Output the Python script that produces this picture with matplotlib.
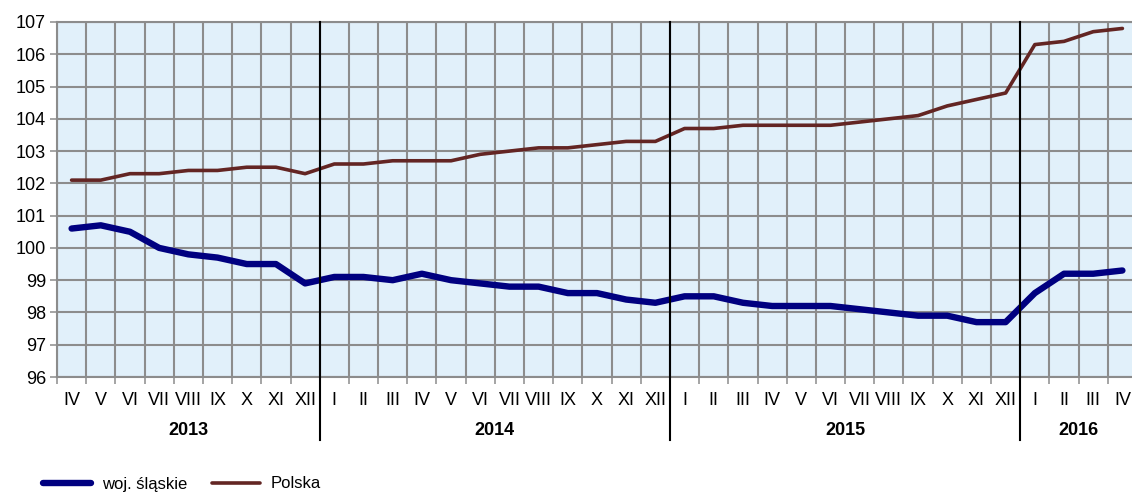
# Wskaźnik cen - woj. śląskie vs Polska, IV 2013 - IV 2016

import numpy as np
import matplotlib.pyplot as plt

plt.rcParams['font.family'] = ['Liberation Sans', 'DejaVu Sans']

# Dane
months = ['IV', 'V', 'VI', 'VII', 'VIII', 'IX', 'X', 'XI', 'XII',
          'I', 'II', 'III', 'IV', 'V', 'VI', 'VII', 'VIII', 'IX', 'X', 'XI', 'XII',
          'I', 'II', 'III', 'IV', 'V', 'VI', 'VII', 'VIII', 'IX', 'X', 'XI', 'XII',
          'I', 'II', 'III', 'IV']
years = ['2013', '2014', '2015', '2016']
months_per_year = [9, 12, 12, 4]

slaskie = [100.6, 100.7, 100.5, 100.0, 99.8, 99.7, 99.5, 99.5, 98.9,
           99.1, 99.1, 99.0, 99.2, 99.0, 98.9, 98.8, 98.8, 98.6, 98.6, 98.4, 98.3,
           98.5, 98.5, 98.3, 98.2, 98.2, 98.2, 98.1, 98.0, 97.9, 97.9, 97.7, 97.7,
           98.6, 99.2, 99.2, 99.3]
polska = [102.1, 102.1, 102.3, 102.3, 102.4, 102.4, 102.5, 102.5, 102.3,
          102.6, 102.6, 102.7, 102.7, 102.7, 102.9, 103.0, 103.1, 103.1, 103.2, 103.3, 103.3,
          103.7, 103.7, 103.8, 103.8, 103.8, 103.8, 103.9, 104.0, 104.1, 104.4, 104.6, 104.8,
          106.3, 106.4, 106.7, 106.8]

W, H = 1132, 493
fig = plt.figure(figsize=(W / 100, H / 100), dpi=100)
ax = fig.add_axes([57 / W, (H - 377) / H, (1137 - 57) / W, 355 / H])

x = np.arange(len(months))
grid_col = '#8c8c8c'
fs = 13

ax.set_facecolor('#e1f0fa')
ax.plot(x, slaskie, color='#000080', lw=4.6, solid_capstyle='round',
        solid_joinstyle='round', label='woj. śląskie', zorder=4)
ax.plot(x, polska, color='#632523', lw=2.6, solid_capstyle='round',
        solid_joinstyle='round', label='Polska', zorder=4)

ax.set_xlim(-0.5, len(months) - 0.5)
ax.set_ylim(96, 107)
ax.set_yticks(np.arange(96, 108, 1))
ax.tick_params(axis='y', labelsize=fs, length=5, color=grid_col, width=1.1, pad=3)

# granice miesięcy - siatka i kreski
ax.set_xticks(np.arange(-0.5, len(months), 1))
ax.set_xticklabels([])
ax.tick_params(axis='x', length=5, color=grid_col, width=1.1)
ax.set_xticks(x, minor=True)
ax.set_xticklabels(months, minor=True, fontsize=fs)
ax.tick_params(axis='x', which='minor', length=0, pad=11)

ax.grid(True, color=grid_col, lw=1.5, zorder=1)
ax.set_axisbelow(True)
for side in ['left', 'top', 'right', 'bottom']:
    ax.spines[side].set_color(grid_col)
    ax.spines[side].set_linewidth(1.5)

# separatory lat i podpisy lat
start = 0
trans = ax.get_xaxis_transform()
for i, (yr, n) in enumerate(zip(years, months_per_year)):
    centre = start + (n - 1) / 2
    ax.text(centre, -0.150, yr, transform=trans, ha='center', va='center',
            fontsize=fs, fontweight='bold')
    if i > 0:
        ax.plot([start - 0.5, start - 0.5], [1, -0.178], transform=trans,
                color='black', lw=1.5, clip_on=False, zorder=5)
    start += n

fig.legend(loc='center left', bbox_to_anchor=(43 / W, 9 / H), ncol=2,
           frameon=False, fontsize=12, handlelength=2.9, columnspacing=1.45,
           handletextpad=0.65, borderpad=0, borderaxespad=0)

fig.savefig('out.png', dpi=100)
